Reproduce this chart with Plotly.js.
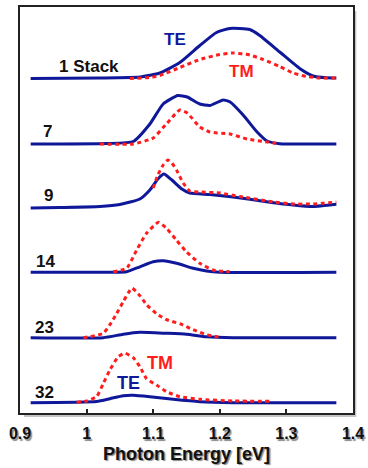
<!DOCTYPE html>
<html>
<head>
<meta charset="utf-8">
<script src="https://cdn.plot.ly/plotly-3.0.1.min.js"></script>
<style>html,body{margin:0;padding:0;background:#fff;}#chart{width:368px;height:468px;}</style>
</head>
<body>
<div id="chart"></div>
<script>
// Stack labels and vertical offsets (arbitrary intensity units)
const stackLabels = ["1 Stack", "7", "9", "14", "23", "32"];
const stackOffsets = [334.5, 269, 205, 140.7, 75.3, 10.3];

// TE spectra (photon energy in eV, intensity a.u.)
const teE_1  = [0.916, 1.02, 1.08, 1.11, 1.14, 1.17, 1.195, 1.215, 1.245, 1.26, 1.29, 1.32, 1.34, 1.36, 1.375];
const teI_1  = [0, 0.5, 1.5, 5.5, 16, 33, 46, 50, 49, 43, 26.5, 10, 2.5, 0.7, 0.5];
const teE_7  = [0.916, 1.03, 1.07, 1.095, 1.115, 1.137, 1.151, 1.17, 1.185, 1.205, 1.2155, 1.235, 1.256, 1.271, 1.29, 1.375];
const teI_7  = [0, 0.5, 2.5, 20, 40, 48.5, 47, 40, 38.5, 44, 42, 29, 12, 3, 0.3, 0];
const teE_9  = [0.916, 0.96, 1.02, 1.05, 1.08, 1.095, 1.107, 1.116, 1.128, 1.143, 1.155, 1.185, 1.22, 1.27, 1.31, 1.34, 1.375];
const teI_9  = [0, 0.5, 1.5, 3.5, 9, 18, 29, 34, 28, 19, 15, 13.5, 11, 6.3, 3, 1.5, 3.7];
const teE_14 = [0.916, 1.04, 1.06, 1.08, 1.10, 1.115, 1.135, 1.16, 1.18, 1.20, 1.375];
const teI_14 = [0, 0, 0.5, 5.5, 10.5, 11.5, 9, 4, 1.3, 0, 0];
const teE_23 = [0.916, 1.025, 1.055, 1.08, 1.12, 1.15, 1.18, 1.22, 1.375];
const teI_23 = [0, 0, 3.5, 5.4, 4.4, 3.4, 1, 0, 0];
const teE_32 = [0.916, 1.015, 1.035, 1.055, 1.07, 1.095, 1.13, 1.17, 1.22, 1.375];
const teI_32 = [0, 1.2, 4, 7, 7.4, 6, 3.4, 1, 0, 0];

// TM spectra
const tmE_1  = [1.065, 1.095, 1.11, 1.14, 1.17, 1.20, 1.22, 1.245, 1.265, 1.29, 1.31, 1.33, 1.35, 1.375];
const tmI_1  = [0, 1, 3, 11, 19, 24, 25.5, 23.5, 19, 12, 5.5, 2, 0.6, 0.5];
const tmE_7  = [1.02, 1.07, 1.10, 1.121, 1.14, 1.151, 1.17, 1.185, 1.2155, 1.241, 1.271, 1.29];
const tmI_7  = [0, 0, 6, 21, 34, 31, 17, 12, 10, 5, 2, 0];
const tmE_9  = [1.10, 1.107, 1.115, 1.122, 1.128, 1.135, 1.145, 1.155, 1.17, 1.20, 1.23, 1.276, 1.31, 1.34, 1.375];
const tmI_9  = [20, 33, 43, 48, 45, 38, 25, 17, 16, 15, 11.5, 6.5, 4, 4, 6];
const tmE_14 = [1.04, 1.06, 1.075, 1.09, 1.108, 1.12, 1.135, 1.15, 1.17, 1.19, 1.215];
const tmI_14 = [0.5, 4, 22, 39, 50, 44, 32, 20.5, 9, 2.3, 0.5];
const tmE_23 = [0.995, 1.025, 1.035, 1.045, 1.055, 1.068, 1.08, 1.09, 1.105, 1.12, 1.14, 1.16, 1.18, 1.20];
const tmI_23 = [0, 4.4, 13, 24, 36, 49.5, 42, 33, 24, 18, 14, 8, 3, 0.5];
const tmE_32 = [0.985, 1.0, 1.015, 1.025, 1.035, 1.0475, 1.0576, 1.07, 1.08, 1.09, 1.105, 1.12, 1.14, 1.17, 1.22, 1.28];
const tmI_32 = [0.5, 1.7, 6, 19, 32.7, 46, 49.4, 45, 36, 24, 17.7, 11, 6, 3.4, 1.7, 1.5];

const teE = [teE_1, teE_7, teE_9, teE_14, teE_23, teE_32];
const teI = [teI_1, teI_7, teI_9, teI_14, teI_23, teI_32];
const tmE = [tmE_1, tmE_7, tmE_9, tmE_14, tmE_23, tmE_32];
const tmI = [tmI_1, tmI_7, tmI_9, tmI_14, tmI_23, tmI_32];

const xTicks = [0.9, 1.0, 1.1, 1.2, 1.3, 1.4];
const xTickText = ["0.9", "1", "1.1", "1.2", "1.3", "1.4"];

const TE_COLOR = "#10189a";
const TM_COLOR = "#ff1c1c";
const FONT = "Arial, 'Liberation Sans', sans-serif";

const traces = [];
for (let i = 0; i < stackLabels.length; i++) {
  traces.push({
    x: teE[i], y: teI[i].map(v => v + stackOffsets[i]),
    mode: "lines", line: {color: TE_COLOR, width: 3, shape: "spline", smoothing: 0.5},
    hoverinfo: "skip", showlegend: false
  });
}
for (let i = 0; i < stackLabels.length; i++) {
  traces.push({
    x: tmE[i], y: tmI[i].map(v => v + stackOffsets[i]),
    mode: "lines", line: {color: TM_COLOR, width: 3, dash: "4px,3.5px", shape: "spline", smoothing: 0.5},
    hoverinfo: "skip", showlegend: false
  });
}

// label positions (layout)
const labelPos = [
  {x: 0.9553, y: 347, xanchor: "left"},
  {x: 0.9516, y: 282, xanchor: "right"},
  {x: 0.9523, y: 217.5, xanchor: "right"},
  {x: 0.9549, y: 152, xanchor: "right"},
  {x: 0.9538, y: 85.5, xanchor: "right"},
  {x: 0.9538, y: 21, xanchor: "right"}
];
const annotations = stackLabels.map((t, i) => ({
  text: t, x: labelPos[i].x, y: labelPos[i].y, xanchor: labelPos[i].xanchor, yanchor: "middle",
  showarrow: false, font: {family: FONT, size: 17, color: "#111", weight: "bold"}
}));
annotations.push(
  {text: "TE", x: 1.133, y: 374, showarrow: false, font: {family: FONT, size: 17, color: TE_COLOR, weight: "bold"}},
  {text: "TM", x: 1.2328, y: 342, showarrow: false, font: {family: FONT, size: 17, color: TM_COLOR, weight: "bold"}},
  {text: "TM", x: 1.1102, y: 50.5, showarrow: false, font: {family: FONT, size: 18, color: TM_COLOR, weight: "bold"}},
  {text: "TE", x: 1.0636, y: 30.5, showarrow: false, font: {family: FONT, size: 18, color: TE_COLOR, weight: "bold"}}
);

const layout = {
  width: 368, height: 468,
  margin: {l: 20, r: 15, t: 7, b: 55},
  paper_bgcolor: "#ffffff",
  plot_bgcolor: "rgba(0,0,0,0)",
  showlegend: false,
  xaxis: {
    range: [0.9, 1.4], tickvals: xTicks, ticktext: xTickText,
    ticks: "inside", ticklen: 4, tickwidth: 2, tickcolor: "#222",
    showline: true, linecolor: "#222", linewidth: 2, mirror: true,
    showgrid: false, zeroline: false,
    ticklabelstandoff: 5,
    tickfont: {family: FONT, size: 16, color: "#111", weight: "bold", shadow: "1.5px 1.5px 1px #8a8a8a"},
    title: {text: "Photon Energy [eV]", standoff: 6,
            font: {family: FONT, size: 18, color: "#111", weight: "bold", shadow: "1.5px 1.5px 1px #8a8a8a"}}
  },
  yaxis: {
    range: [0, 406], showticklabels: false, ticks: "",
    showline: true, linecolor: "#222", linewidth: 2, mirror: true,
    showgrid: false, zeroline: false
  },
  shapes: [
    {type: "rect", xref: "paper", yref: "paper", x0: 0.012, x1: 1.010, y0: -0.0098, y1: 0.990,
     fillcolor: "#c4c4c4", line: {width: 0}, layer: "below"},
    {type: "rect", xref: "paper", yref: "paper", x0: 0, x1: 1, y0: 0, y1: 1,
     fillcolor: "#ffffff", line: {width: 0}, layer: "below"}
  ],
  annotations: annotations
};

Plotly.newPlot("chart", traces, layout, {staticPlot: true, displayModeBar: false});
</script>
</body>
</html>
